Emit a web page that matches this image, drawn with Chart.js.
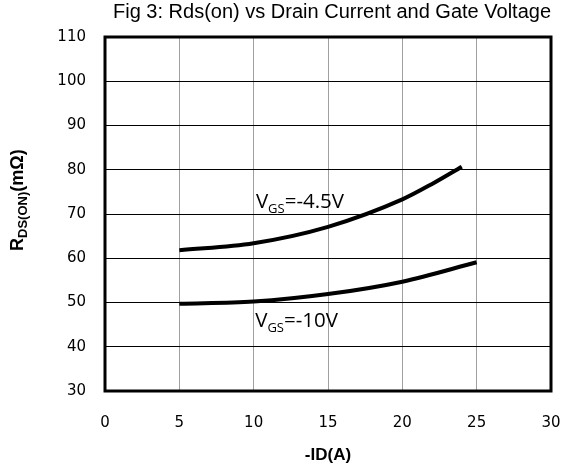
<!DOCTYPE html>
<html>
<head>
<meta charset="utf-8">
<script src="https://cdn.jsdelivr.net/npm/chart.js@4"></script>
<style>
  html, body { margin: 0; padding: 0; background: #fff; }
  #wrap { width: 565px; height: 468px; }
</style>
</head>
<body>
<div id="wrap"><canvas id="rdsChart"></canvas></div>
<script>
// -ID (A) and Rds(on) (mOhm)
const currentA = [5, 10, 15, 20, 22, 24];
const rdsVgs45 = [61.8, 63.4, 67.1, 73.3, 76.8, 80.7];
const currentB = [5, 10, 15, 20, 25];
const rdsVgs10 = [49.7, 50.2, 51.9, 54.7, 59.1];

const xTicks = [0, 5, 10, 15, 20, 25, 30];
const yTicks = [30, 40, 50, 60, 70, 80, 90, 100, 110];

// curve labels: [x, y, main, sub, rest]
const curveLabels = [
  [10.15, 71.4, "V", "GS", "=-4.5V"],
  [10.1, 44.5, "V", "GS", "=-10V"]
];

function toPoints(xs, ys) {
  return xs.map((x, i) => ({ x: x, y: ys[i] }));
}

// text with a subscript part
function drawSub(ctx, x, y, main, sub, rest, big, small, shift, weight, font) {
  ctx.font = weight + " " + big + "px " + font;
  ctx.fillText(main, x, y);
  x += ctx.measureText(main).width;
  ctx.font = weight + " " + small + "px " + font;
  ctx.fillText(sub, x, y + shift);
  x += ctx.measureText(sub).width;
  ctx.font = weight + " " + big + "px " + font;
  ctx.fillText(rest, x, y);
}

const extras = {
  id: "extras",
  beforeDatasetsDraw(chart) {
    const { ctx, chartArea: a } = chart;
    ctx.save();
    ctx.strokeStyle = "#000";
    ctx.lineWidth = 3;
    ctx.strokeRect(a.left, a.top, a.right - a.left, a.bottom - a.top);
    ctx.restore();
  },
  afterDraw(chart) {
    const { ctx } = chart;
    const xs = chart.scales.x, ys = chart.scales.y;
    ctx.save();
    ctx.fillStyle = "#000";
    ctx.textBaseline = "alphabetic";
    ctx.textAlign = "left";
    curveLabels.forEach(l => {
      drawSub(ctx, xs.getPixelForValue(l[0]), ys.getPixelForValue(l[1]),
        l[2], l[3], l[4], 20.5, 13, 5, "normal", "'Open Sans'");
    });
    // y axis title, rotated
    ctx.translate(23, 251);
    ctx.rotate(-Math.PI / 2);
    drawSub(ctx, 0, 0, "R", "DS(ON)", "(mΩ)", 18, 13, 4, "bold", "'Liberation Sans'");
    ctx.restore();
  }
};

Chart.defaults.font.family = "'DejaVu Sans'";
Chart.defaults.color = "#000";

new Chart(document.getElementById("rdsChart"), {
  type: "scatter",
  data: {
    datasets: [{
      label: "VGS=-4.5V",
      data: toPoints(currentA, rdsVgs45),
      showLine: true,
      borderColor: "#000",
      borderWidth: 4,
      pointRadius: 0,
      cubicInterpolationMode: "monotone"
    }, {
      label: "VGS=-10V",
      data: toPoints(currentB, rdsVgs10),
      showLine: true,
      borderColor: "#000",
      borderWidth: 4,
      pointRadius: 0,
      cubicInterpolationMode: "monotone"
    }]
  },
  options: {
    responsive: true,
    maintainAspectRatio: false,
    animation: false,
    layout: { padding: { top: 0, right: 14, bottom: 0, left: 0 } },
    plugins: {
      legend: { display: false },
      tooltip: { enabled: false },
      title: {
        display: true,
        text: "Fig 3: Rds(on) vs Drain Current and Gate Voltage",
        align: "end",
        color: "#000",
        font: { family: "'Liberation Sans'", size: 20, weight: "normal" },
        padding: { top: 0, bottom: 13 }
      }
    },
    scales: {
      x: {
        type: "linear",
        min: 0,
        max: 30,
        afterBuildTicks: s => { s.ticks = xTicks.map(v => ({ value: v })); },
        afterFit: s => { s.height = 77; s.paddingRight = 0; s.paddingLeft = 0; },
        ticks: { font: { size: 15 }, padding: 23 },
        grid: { color: "#a0a0a0", lineWidth: 1, drawTicks: false },
        border: { display: false },
        title: {
          display: true,
          text: "-ID(A)",
          font: { family: "'Liberation Sans'", size: 17, weight: "bold" },
          padding: { top: 0, bottom: 2 }
        }
      },
      y: {
        type: "linear",
        min: 30,
        max: 110,
        afterBuildTicks: s => { s.ticks = yTicks.map(v => ({ value: v })); },
        afterFit: s => { s.width = 105; },
        ticks: { font: { size: 15 }, padding: 19 },
        grid: { color: "#000", lineWidth: 1, drawTicks: false },
        border: { display: false }
      }
    }
  },
  plugins: [extras]
});
</script>
</body>
</html>
